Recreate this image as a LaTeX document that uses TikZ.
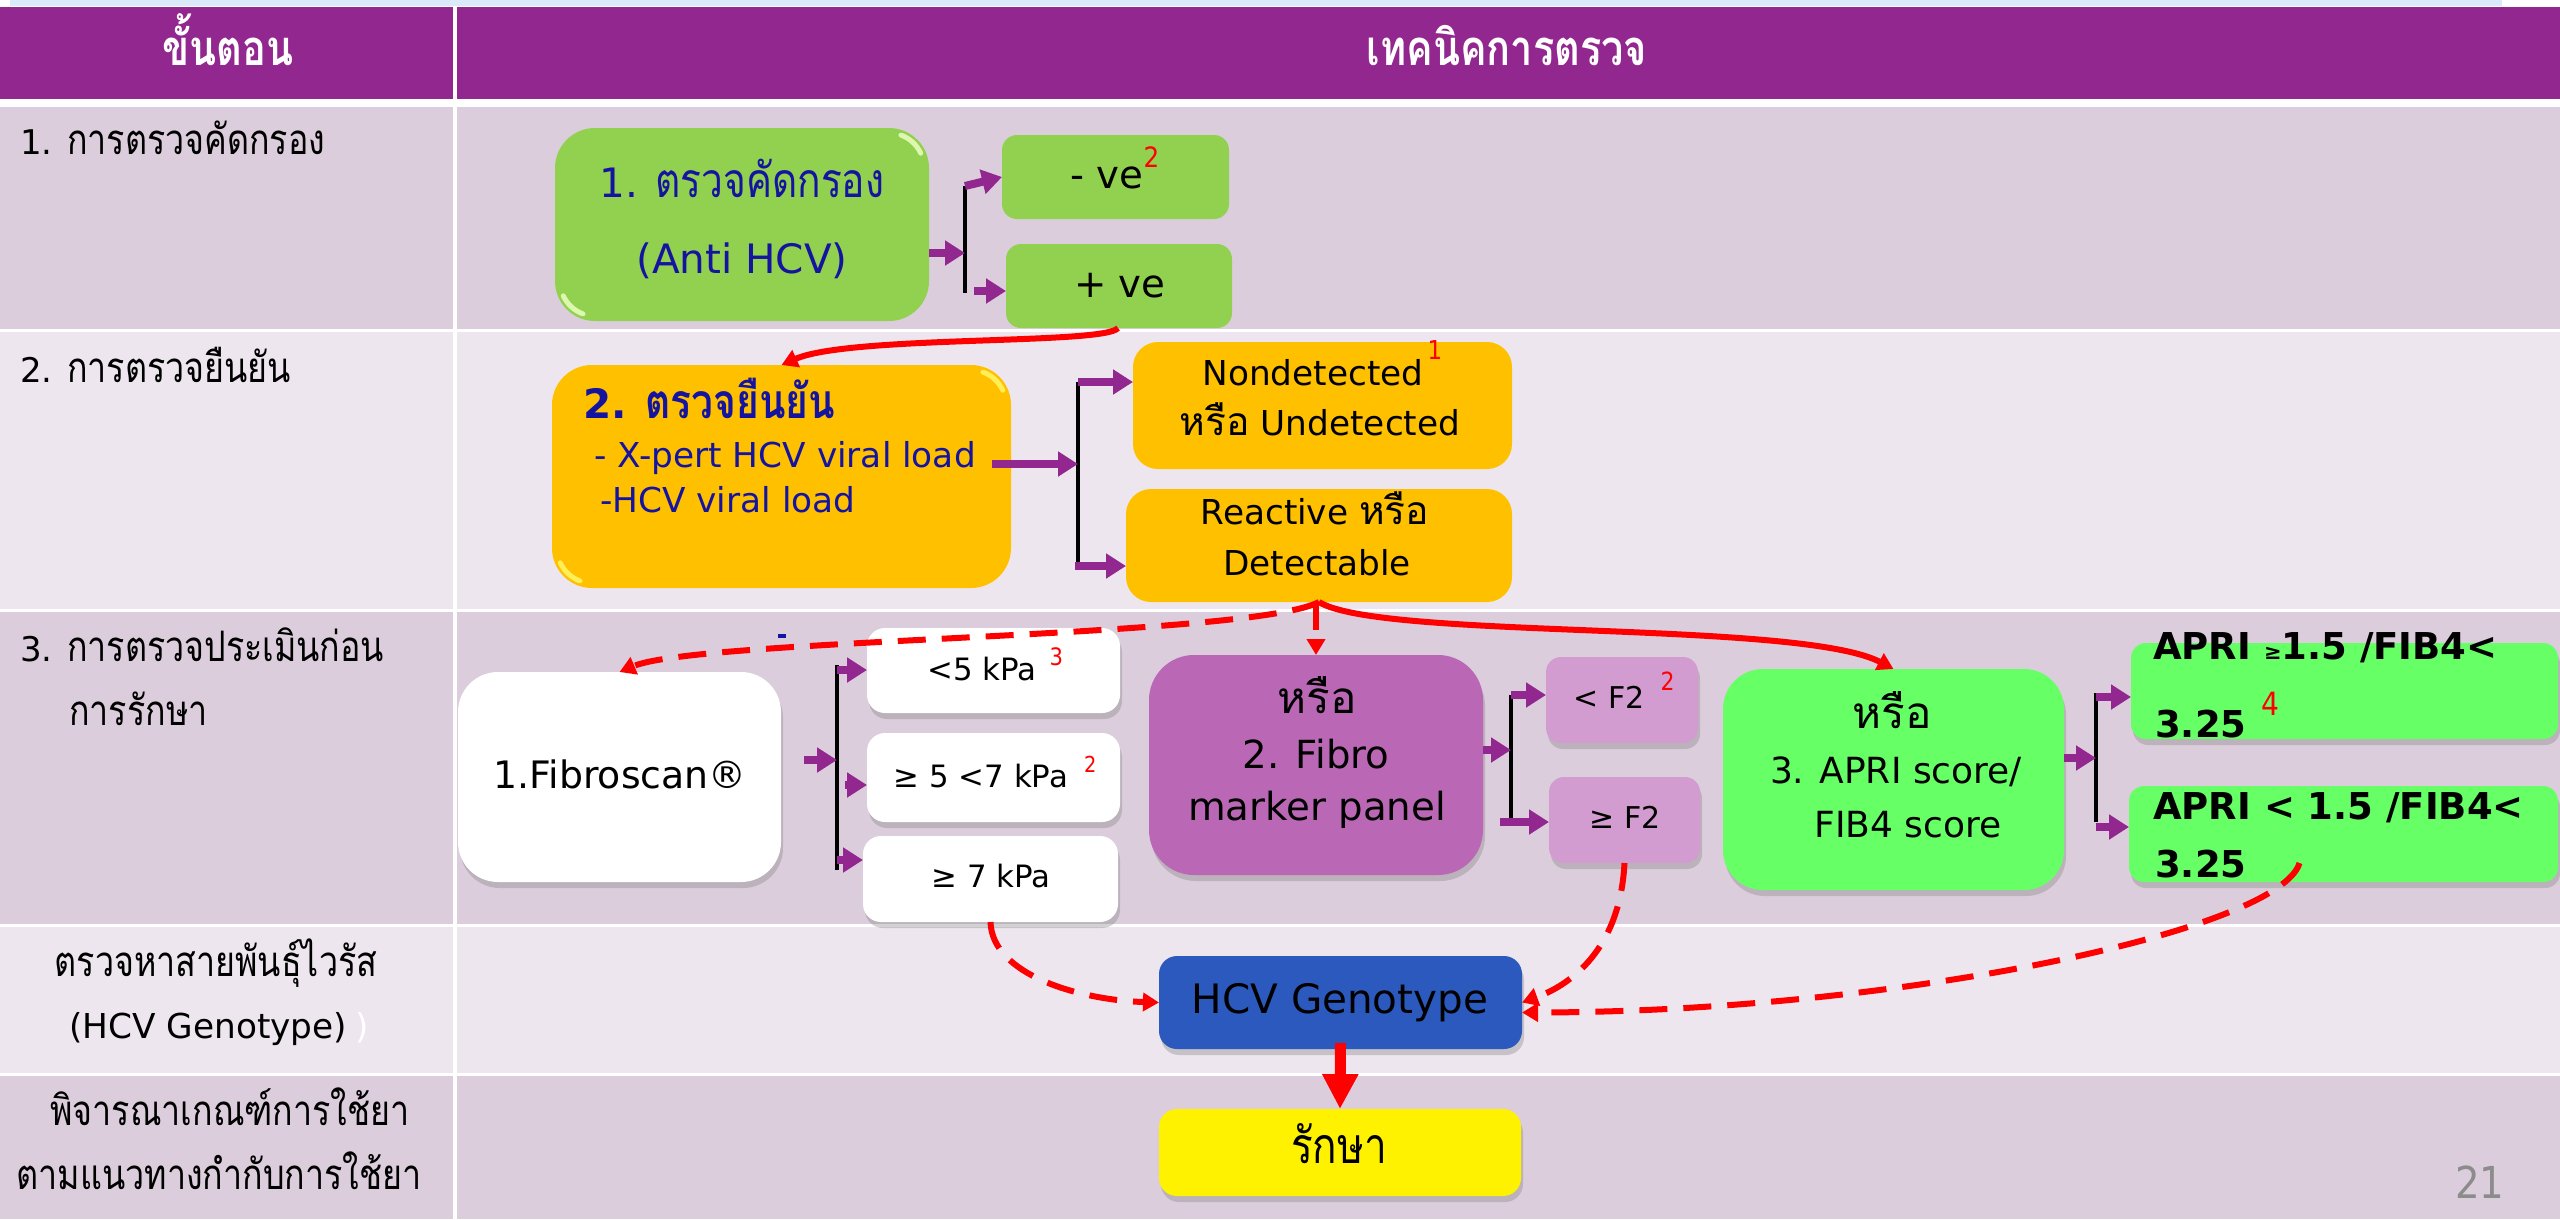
\documentclass[tikz,border=0pt]{standalone}
\usepackage{fontspec}
\setmainfont{DejaVu Sans}
\newfontfamily\numfont{DejaVu Sans}[FakeStretch=0.88]
\newfontfamily\thai[Script=Thai, FakeStretch=0.81]{Loma}
\newfontfamily\thaiw[Script=Thai]{Loma}
\usetikzlibrary{arrows.meta,shadows,calc}
\definecolor{hdrpurple}{RGB}{145,39,143}
\definecolor{rowdark}{RGB}{219,205,220}
\definecolor{rowlight}{RGB}{237,230,238}
\definecolor{topblue}{RGB}{218,234,248}
\definecolor{lgreen}{RGB}{146,208,80}
\definecolor{orangeb}{RGB}{255,192,0}
\definecolor{bgreen}{RGB}{102,255,102}
\definecolor{mpurple}{RGB}{186,104,182}
\definecolor{lpurple}{RGB}{210,156,208}
\definecolor{gblue}{RGB}{44,89,189}
\definecolor{navy}{RGB}{20,20,160}
\definecolor{pagegrey}{RGB}{140,140,140}
\newcommand{\fsz}[1]{\fontsize{#1}{#1}\selectfont}
\newcommand{\redsup}[2]{\textcolor{red}{\numfont\fsz{#1}#2}}
\tikzset{
  bx/.style={inner sep=0pt, outer sep=0pt, draw=none},
  shd/.style={drop shadow={opacity=0.35, shadow xshift=2pt, shadow yshift=-6pt}},
  lbl/.style={inner sep=0pt, anchor=base},
  lblw/.style={inner sep=0pt, anchor=base west},
  parr/.style={draw=hdrpurple, line width=8pt, -{Triangle[width=24pt,length=20pt]}},
  brk/.style={draw=black, line width=4pt},
  rarr/.style={draw=red, line width=6pt, -{Triangle[width=18pt,length=16pt]}},
  rdash/.style={rarr, dash pattern=on 28pt off 16pt},
  bigarr/.style={draw=red, line width=11pt, -{Triangle[width=34pt,length=35pt]}},
  hlg/.style={draw=green!30!yellow!25!white, line width=5pt, line cap=round, opacity=0.85},
  hlo/.style={draw=yellow!60!white, line width=5pt, line cap=round, opacity=0.85},
}
\begin{document}
\begin{tikzpicture}[x=1pt, y=-1pt]
\useasboundingbox (0,0) rectangle (2560,1219);
% ---------- table background ----------
\fill[white] (0,0) rectangle (2560,1219);
\fill[topblue] (10,0) rectangle (2502,6);
\fill[hdrpurple] (0,7) rectangle (453,99);
\fill[hdrpurple] (457,7) rectangle (2560,99);
\fill[rowdark] (0,107) rectangle (453,329);   \fill[rowdark] (457,107) rectangle (2560,329);
\fill[rowlight] (0,332) rectangle (453,609);  \fill[rowlight] (457,332) rectangle (2560,609);
\fill[rowdark] (0,612) rectangle (453,924);   \fill[rowdark] (457,612) rectangle (2560,924);
\fill[rowlight] (0,927) rectangle (453,1073); \fill[rowlight] (457,927) rectangle (2560,1073);
\fill[rowdark] (0,1076) rectangle (453,1219); \fill[rowdark] (457,1076) rectangle (2560,1219);

% ---------- header ----------
\node[lbl, text=white] (hA) at (228,65) {\thai\bfseries\fsz{49}ขั้นตอน};
\node[lbl, text=white] (hB) at (1507,65) {\thai\bfseries\fsz{49}เทคนิคการตรวจ};

% ---------- row labels ----------
\node[lblw] (l1) at (20,154) {\fsz{34}1. {\thai\fsz{42}การตรวจคัดกรอง}};
\node[lblw] (l2) at (20,382) {\fsz{34}2. {\thai\fsz{42}การตรวจยืนยัน}};
\node[lblw] (l3) at (20,661) {\fsz{34}3. {\thai\fsz{42}การตรวจประเมินก่อน}};
\node[lblw] (l3b) at (69,725) {\thai\fsz{42}การรักษา};
\node[lbl] (l4) at (216,976) {\thai\fsz{42}ตรวจหาสายพันธุ์ไวรัส};
\node[lblw] (l4b) at (69,1038) {\fsz{34.3}(HCV Genotype)\hspace{8pt}\textcolor{white}{)}};
\node[lbl] (l5) at (230,1125) {\thai\fsz{42}พิจารณาเกณฑ์การใช้ยา};
\node[lbl] (l5b) at (219,1189) {\thai\fsz{42}ตามแนวทางกำกับการใช้ยา};

% ---------- boxes ----------
\node[bx, fill=lgreen, rounded corners=40pt, minimum width=374pt, minimum height=193pt] (g1) at (742,224.5) {};
\node[bx, fill=lgreen, rounded corners=15pt, minimum width=227pt, minimum height=84pt] (neg) at (1115.5,177) {};
\node[bx, fill=lgreen, rounded corners=15pt, minimum width=226pt, minimum height=84pt] (pos) at (1119,286) {};
\node[bx, fill=orangeb, rounded corners=40pt, minimum width=459pt, minimum height=223pt] (o2) at (781.5,476.5) {};
\node[bx, fill=orangeb, rounded corners=25pt, minimum width=379pt, minimum height=127pt] (nd) at (1322.5,405.5) {};
\node[bx, fill=orangeb, rounded corners=25pt, minimum width=386pt, minimum height=113pt] (re) at (1319,545.5) {};
\node[bx, shd, fill=white, rounded corners=40pt, minimum width=323pt, minimum height=210pt] (fib) at (619.5,777) {};
\node[bx, shd, fill=white, rounded corners=18pt, minimum width=253pt, minimum height=85pt] (k1) at (993.5,670.5) {};
\node[bx, shd, fill=white, rounded corners=18pt, minimum width=253pt, minimum height=89pt] (k2) at (993.5,777.5) {};
\node[bx, shd, fill=white, rounded corners=18pt, minimum width=255pt, minimum height=86pt] (k3) at (990.5,879) {};
\node[bx, shd, fill=mpurple, rounded corners=45pt, minimum width=334pt, minimum height=220pt] (mp) at (1316,765) {};
\node[bx, shd, fill=lpurple, rounded corners=15pt, minimum width=152pt, minimum height=86pt] (f1) at (1622,700) {};
\node[bx, shd, fill=lpurple, rounded corners=15pt, minimum width=151pt, minimum height=86pt] (f2) at (1624.5,820) {};
\node[bx, shd, fill=bgreen, rounded corners=40pt, minimum width=341pt, minimum height=221pt] (ap) at (1893.5,779.5) {};
\node[bx, shd, fill=bgreen, rounded corners=15pt, minimum width=427pt, minimum height=96pt] (r1) at (2344.5,691) {};
\node[bx, shd, fill=bgreen, rounded corners=15pt, minimum width=429pt, minimum height=96pt] (r2) at (2343.5,834) {};
\node[bx, shd, fill=gblue, rounded corners=18pt, minimum width=363pt, minimum height=93pt] (gt) at (1340.5,1002.5) {};
\node[bx, shd, fill=yellow, rounded corners=18pt, minimum width=362pt, minimum height=87pt] (treat) at (1340,1152.5) {};

% glossy highlights
\draw[hlg] (901,135.1) arc[start angle=-70, end angle=-25, radius=35];
\draw[hlg] (583,313.9) arc[start angle=110, end angle=155, radius=35];
\draw[hlo] (983,372.1) arc[start angle=-70, end angle=-25, radius=35];
\draw[hlo] (580,580.9) arc[start angle=110, end angle=155, radius=35];

% ---------- connectors: row 1 ----------
\coordinate (b1t) at (965,186);
\coordinate (b1m) at (965,253);
\coordinate (b1b) at (965,293);
\draw[brk] (b1t) -- (b1b);
\draw[parr] (g1.east |- b1m) -- (b1m);
\draw[parr] (b1t) -- (neg.west);
\draw[parr] ($(b1b)+(9,-2)$) -- (pos.west |- 0,291);
\draw[rarr] ($(pos.south)+(-1,0)$) .. controls (1105,345) and (850,335) .. (o2.north);

% ---------- connectors: row 2 ----------
\coordinate (b2t) at (1078,382);
\coordinate (b2m) at (1078,464);
\coordinate (b2b) at (1078,566);
\draw[brk] (b2t) -- (b2b);
\draw[parr] ($(o2.east |- b2m)+(-19,0)$) -- (b2m);
\draw[parr] (b2t) -- (nd.west |- b2t);
\draw[parr] ($(b2b)+(-3,0)$) -- (re.west |- b2b);

% ---------- connectors: row 3 ----------
\draw[rdash] (re.south) .. controls (1250,638) and (700,638) .. (fib.north);
\draw[rdash] (mp.north |- re.south) -- (mp.north);
\draw[rarr] (re.south) .. controls (1380,640) and (1800,620) .. (ap.north);
\fill[navy] (778,634) rectangle (786,638);

\coordinate (b3t) at (837,665);
\coordinate (b3b) at (837,870);
\coordinate (b3a) at (837,670);
\coordinate (b3m) at (837,760);
\coordinate (b3c) at (845,785);
\coordinate (b3d) at (837,860);
\draw[brk] (b3t) -- (b3b);
\draw[parr, shorten <=23pt] (fib.east |- b3m) -- (b3m);
\draw[parr] (b3a) -- (k1.west |- b3a);
\draw[parr] (b3c) -- (k2.west |- b3c);
\draw[parr] (b3d) -- (k3.west |- b3d);

\coordinate (b4t) at (1511,695);
\coordinate (b4b) at (1511,820);
\coordinate (b4m) at (1511,750);
\coordinate (b4c) at (1500,822);
\draw[brk] (b4t) -- (b4b);
\draw[parr] (mp.east |- b4m) -- (b4m);
\draw[parr] (b4t) -- (f1.west |- b4t);
\draw[parr] (b4c) -- (f2.west |- b4c);

\coordinate (b5t) at (2096,693);
\coordinate (b5b) at (2096,822);
\coordinate (b5m) at (2096,758);
\coordinate (b5a) at (2096,697);
\coordinate (b5c) at (2096,827);
\draw[brk] (b5t) -- (b5b);
\draw[parr] (ap.east |- b5m) -- (b5m);
\draw[parr] (b5a) -- (r1.west |- b5a);
\draw[parr] (b5c) -- (r2.west |- b5c);

% ---------- connectors: rows 4-5 ----------
\draw[rdash] (k3.south) .. controls (992,975) and (1080,1000) .. (gt.west);
\draw[rdash] (f2.south) .. controls (1620,950) and (1570,985) .. (gt.east);
\coordinate (r2s) at ($(r2.south)+(-44,-19)$);
\draw[rdash] (r2s) .. controls (2280,930) and (1900,1012) .. ($(gt.east)+(0,10)$);
\draw[bigarr] ($(gt.south)+(0,-6)$) -- (treat.north);

% ---------- box texts ----------
\node[lbl, text=navy] (g1a) at (742,197) {\fsz{40.5}1. {\thai\fsz{48}ตรวจคัดกรอง}};
\node[lbl, text=navy] (g1b) at (742,273) {\fsz{40.5}(Anti HCV)};
\node[lbl] (nega) at (1107,188) {\fsz{38.7}- ve\rlap{\raisebox{21pt}{\redsup{28}{2}}}};
\node[lbl] (posa) at (1120,297) {\fsz{38.7}+ ve};
\node[lblw, text=navy] (o2a) at (583,418) {\bfseries\fsz{40.5}2. {\thai\fsz{48}ตรวจยืนยัน}};
\node[lblw, text=navy] (o2b) at (594,467) {\fsz{34.3}- X-pert HCV viral load};
\node[lblw, text=navy] (o2c) at (600,512) {\fsz{34.3}-HCV viral load};
\node[lbl] (nda) at (1313,385) {\fsz{34.3}Nondetected\rlap{\hspace{4pt}\raisebox{26pt}{\redsup{26}{1}}}};
\node[lbl] (ndb) at (1320,435) {\fsz{34.3}{\thaiw\fsz{39}หรือ} Undetected};
\node[lbl] (rea) at (1315,524) {\fsz{34.3}Reactive {\thaiw\fsz{39}หรือ}};
\node[lbl] (reb) at (1317,575) {\fsz{34.3}Detectable};
\node[lbl] (fiba) at (620,788) {\fsz{37.8}1.Fibroscan®};
\node[lbl] (k1a) at (982,680) {\fsz{30.8}<5 kPa\rlap{\hspace{13pt}\raisebox{15pt}{\redsup{24}{3}}}};
\node[lbl] (k2a) at (981,787) {\fsz{30.8}≥ 5 <7 kPa\rlap{\hspace{16pt}\raisebox{15pt}{\redsup{22}{2}}}};
\node[lbl] (k3a) at (991,887) {\fsz{30.8}≥ 7 kPa};
\node[lbl] (mpa) at (1317,713) {\thaiw\fsz{44}หรือ};
\node[lbl] (mpb) at (1316,768) {\fsz{38.7}2. Fibro};
\node[lbl] (mpc) at (1317,820) {\fsz{38.7}marker panel};
\node[lbl] (f1a) at (1609,708) {\fsz{30}< F2\rlap{\hspace{16pt}\raisebox{18pt}{\redsup{25}{2}}}};
\node[lbl] (f2a) at (1625,828) {\fsz{30}≥ F2};
\node[lbl] (apa) at (1892,728) {\thaiw\fsz{44}หรือ};
\node[lbl] (apb) at (1896,783) {\fsz{36}3. APRI score/};
\node[lbl] (apc) at (1908,837) {\fsz{36}FIB4 score};
\node[lblw] (r1a) at (2153,659) {\bfseries\fsz{37}APRI {\fsz{21}≥}1.5 /FIB4<};
\node[lblw] (r1b) at (2155,737) {\bfseries\fsz{37}3.25\rlap{\hspace{15pt}\raisebox{22pt}{\mdseries\redsup{32}{4}}}};
\node[lblw] (r2a) at (2153,819) {\bfseries\fsz{37}APRI < 1.5 /FIB4<};
\node[lblw] (r2b) at (2155,877) {\bfseries\fsz{37}3.25};
\node[lbl] (gta) at (1340,1013) {\fsz{40.5}HCV Genotype};
\node[lbl] (tra) at (1339,1163) {\thai\fsz{50}รักษา};
\node[lblw, text=pagegrey] (pg) at (2455,1198) {\numfont\fsz{44}21};
\end{tikzpicture}
\end{document}
